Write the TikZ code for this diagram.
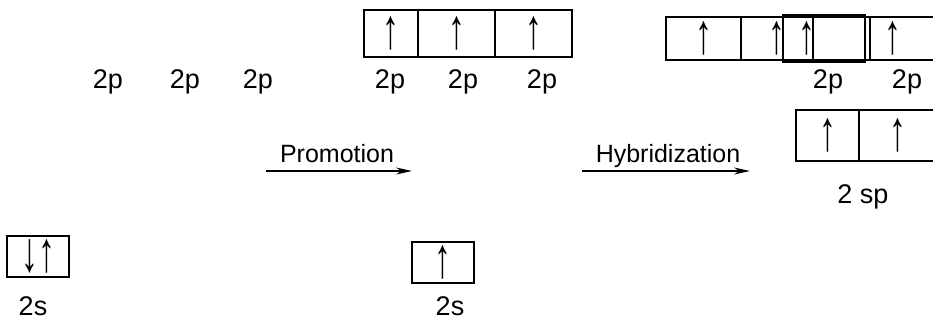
\documentclass[tikz,border=0pt]{standalone}
\usepackage{fontspec}
\setmainfont{Liberation Sans}
\usetikzlibrary{arrows.meta}
\newcommand{\spinup}{\scalebox{1.25}[2.1]{↑}}
\newcommand{\spindown}{\scalebox{1.25}[2.1]{↓}}

\begin{document}
\begin{tikzpicture}[x=1pt, y=-1pt,
    every node/.style={font=\fontsize{27}{30}\selectfont, inner sep=0pt, outer sep=0pt},
    orb/.style={draw, line width=1.8pt},
    step label/.style={font=\fontsize{25}{30}\selectfont, anchor=base},
    react/.style={-{Stealth[length=16pt, width=7pt]}, line width=1.4pt}]
            \useasboundingbox (0, 0) rectangle (933, 320);
            % ground state
            \draw (108, 89) node[anchor=base](g1){2p};
            \draw (185, 89) node[anchor=base](g2){2p};
            \draw (258, 89) node[anchor=base](g3){2p};
            \draw (38, 256.5) node[orb, minimum width=62, minimum height=41](gs){\spindown\spinup};
            \draw (33, 315) node[anchor=base](gsl){2s};
            % promoted state
            \draw (391, 33.5) node[orb, minimum width=54, minimum height=47](m1){\spinup};
            \draw (456.5, 33.5) node[orb, minimum width=77, minimum height=47](m2){\spinup};
            \draw (533.5, 33.5) node[orb, minimum width=77, minimum height=47](m3){\spinup};
            \draw (390, 89) node[anchor=base](ml1){2p};
            \draw (463, 89) node[anchor=base](ml2){2p};
            \draw (542, 89) node[anchor=base](ml3){2p};
            \draw (443, 262.5) node[orb, minimum width=62, minimum height=41](ms){\spinup};
            \draw (450, 315) node[anchor=base](msl){2s};
            % hybridized state
            \draw (703.5, 38.5) node[orb, minimum width=75, minimum height=43](h1){\spinup};
            \draw (777, 38.5) node[orb, minimum width=72, minimum height=43](h2){\spinup};
            \draw (841.5, 38.5) node[orb, minimum width=57, minimum height=43](h3){};
            \draw (905, 38.5) node[orb, minimum width=70, minimum height=43](h4){};
            \draw (824, 38.5) node[orb, minimum width=82, minimum height=47](h5){};
            \draw (807, 38.5) node(u1){\spinup};
            \draw (893, 38.5) node(u2){\spinup};
            \draw (828, 89) node[anchor=base](hl1){2p};
            \draw (907, 89) node[anchor=base](hl2){2p};
            \draw (827.5, 135.5) node[orb, minimum width=63, minimum height=51](s1){\spinup};
            \draw (898, 135.5) node[orb, minimum width=78, minimum height=51](s2){\spinup};
            \draw (863, 204) node[anchor=base](sl){2 sp};
            % steps
            \coordinate (p0) at (266, 171);
            \coordinate (p1) at (412, 171);
            \coordinate (q0) at (582, 171);
            \coordinate (q1) at (750, 171);
            \draw[react] (p0) -- (p1);
            \draw[react] (q0) -- (q1);
            \draw (337, 163) node[step label](pl){Promotion};
            \draw (668, 163) node[step label](ql){Hybridization};
        \end{tikzpicture}
\end{document}
